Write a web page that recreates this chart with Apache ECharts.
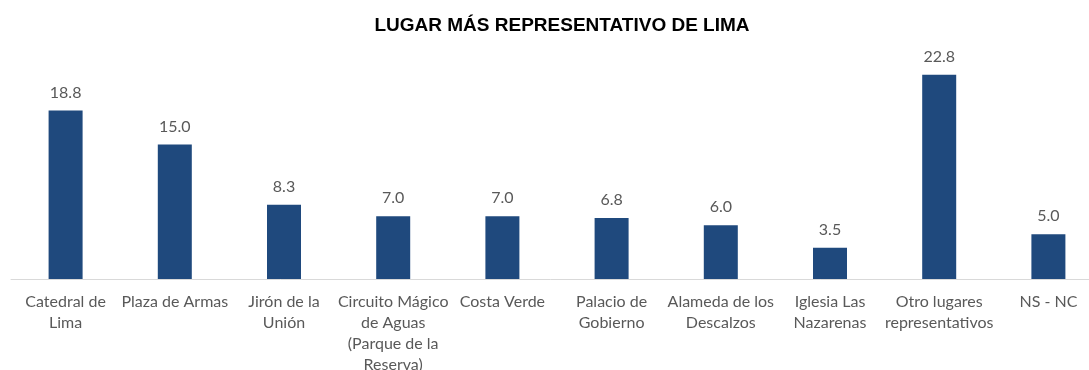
<!DOCTYPE html>
<html>
<head>
<meta charset="utf-8">
<script src="https://cdn.jsdelivr.net/npm/echarts@6/dist/echarts.min.js"></script>
<style>
  html, body { margin: 0; padding: 0; background: #ffffff; }
  #chart { width: 1089px; height: 370px; }
</style>
</head>
<body>
<div id="chart"></div>
<script>
// Places named as the most representative of Lima (percent of answers)
const categories = [
  'Catedral de\nLima',
  'Plaza de Armas',
  'Jirón de la\nUnión',
  'Circuito Mágico\nde Aguas\n(Parque de la\nReserva)',
  'Costa Verde',
  'Palacio de\nGobierno',
  'Alameda de los\nDescalzos',
  'Iglesia Las\nNazarenas',
  'Otro lugares\nrepresentativos',
  'NS - NC'
];
const values = [18.8, 15.0, 8.3, 7.0, 7.0, 6.8, 6.0, 3.5, 22.8, 5.0];
const titleText = 'LUGAR MÁS REPRESENTATIVO DE LIMA';

const chart = echarts.init(document.getElementById('chart'), null, { renderer: 'canvas' });
const labelFont = 'Lato, "Open Sans", sans-serif';

chart.setOption({
  animation: false,
  backgroundColor: '#ffffff',
  title: {
    text: titleText,
    left: 557,
    top: 11,
    textAlign: 'center',
    textStyle: {
      fontFamily: '"Liberation Sans", Arial, sans-serif',
      fontWeight: 'bold',
      fontSize: 19,
      color: '#000000'
    }
  },
  grid: {
    left: 11, top: 55, width: 1092, height: 224,
    containLabel: false,
    outerBoundsMode: 'none'
  },
  xAxis: {
    type: 'category',
    data: categories,
    axisLine: { show: true, lineStyle: { color: '#d9d9d9', width: 1 } },
    axisTick: { show: false },
    axisLabel: {
      interval: 0,
      margin: 12,
      color: '#595959',
      fontFamily: labelFont,
      fontSize: 16,
      lineHeight: 21,
      align: 'center'
    }
  },
  yAxis: {
    type: 'value',
    min: 0,
    max: 25,
    show: false,
    splitLine: { show: false }
  },
  series: [{
    type: 'bar',
    data: values,
    barWidth: 34,
    itemStyle: { color: '#1f497d' },
    label: {
      show: true,
      position: 'top',
      distance: 10,
      color: '#595959',
      fontFamily: labelFont,
      fontSize: 16,
      formatter: p => p.value.toFixed(1)
    }
  }]
});
</script>
</body>
</html>
